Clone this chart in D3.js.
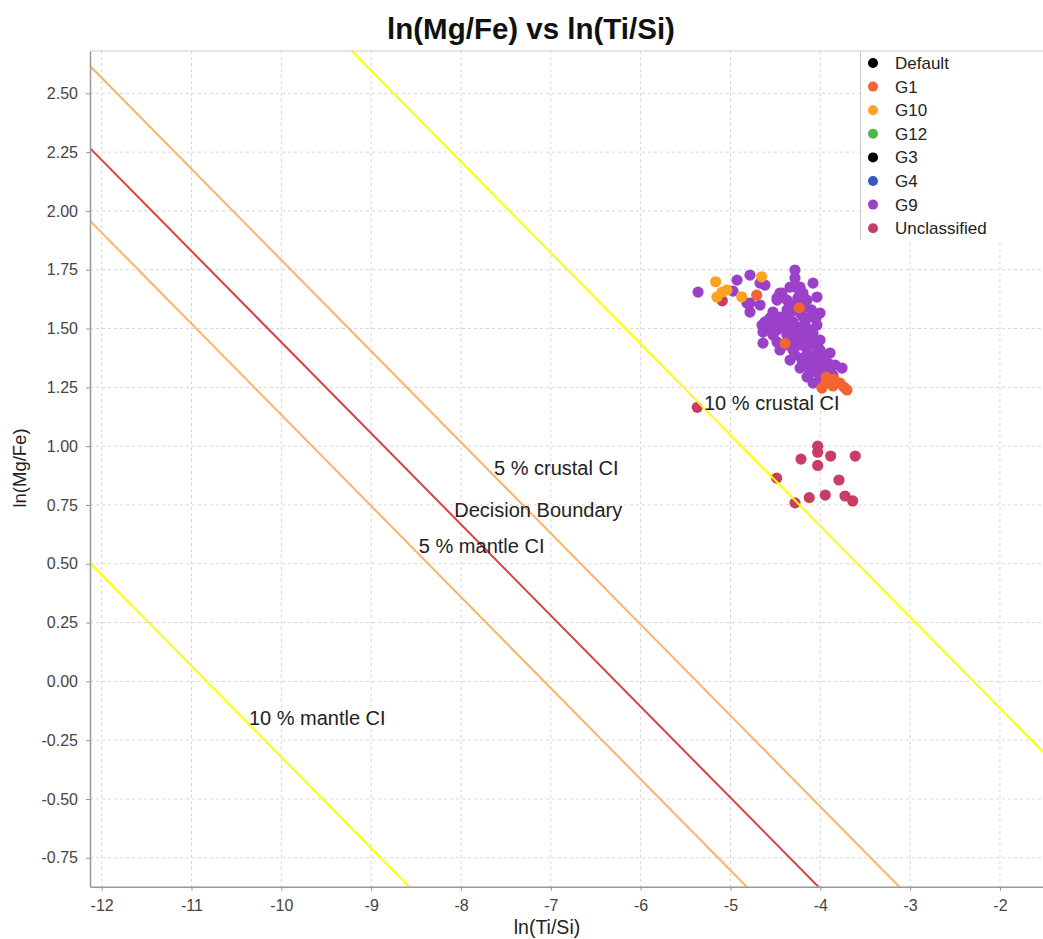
<!DOCTYPE html>
<html>
<head>
<meta charset="utf-8">
<script src="https://cdn.jsdelivr.net/npm/d3@7"></script>
<style>
body { margin: 0; background: #fff; }
text { font-family: "Liberation Sans", Arial, sans-serif; }
</style>
</head>
<body>
<script>
var w = 1043;
var h = 939;
var plotL = 90, plotT = 51, plotR = 1043, plotB = 886.7;

// axis ticks
var xTicks = [-12, -11, -10, -9, -8, -7, -6, -5, -4, -3, -2];
var yTicks = [-0.75, -0.5, -0.25, 0, 0.25, 0.5, 0.75, 1, 1.25, 1.5, 1.75, 2, 2.25, 2.5];

// legend / series
var groups = ["Default", "G1", "G10", "G12", "G3", "G4", "G9", "Unclassified"];
var colors = ["#000000", "#f26430", "#f9a31e", "#52b551", "#000000", "#3a55c9", "#9b40c9", "#c93d63"];

var defaultPts = [];
var g1Pts = [[-4.708, 1.642], [-4.234, 1.588], [-4.393, 1.437], [-3.937, 1.294], [-3.848, 1.285],
    [-3.781, 1.268], [-3.737, 1.251], [-3.703, 1.239], [-3.982, 1.247], [-3.937, 1.268], [-3.859, 1.256]];
var g10Pts = [[-5.165, 1.699], [-4.653, 1.720], [-5.095, 1.655], [-5.151, 1.634], [-4.875, 1.635], [-5.04, 1.664]];
var g12Pts = [];
var g3Pts = [];
var g4Pts = [];
var g9Pts = [[-5.361, 1.655], [-4.927, 1.706], [-4.783, 1.727], [-4.671, 1.693], [-4.616, 1.685],
    [-4.282, 1.749], [-4.282, 1.715], [-4.081, 1.693], [-4.337, 1.676], [-4.226, 1.676],
    [-4.449, 1.651], [-4.193, 1.651], [-4.037, 1.634], [-4.482, 1.621], [-4.371, 1.621],
    [-4.148, 1.621], [-4.783, 1.608], [-4.671, 1.600], [-4.527, 1.570], [-4.003, 1.566],
    [-4.783, 1.570], [-4.560, 1.545], [-4.449, 1.549], [-4.337, 1.566], [-4.226, 1.566],
    [-4.115, 1.549], [-4.304, 1.528], [-4.170, 1.515], [-4.037, 1.515], [-4.482, 1.494],
    [-4.337, 1.494], [-4.226, 1.481], [-4.081, 1.481], [-4.638, 1.438], [-4.482, 1.443],
    [-4.304, 1.451], [-4.148, 1.443], [-4.003, 1.451], [-4.449, 1.409], [-4.304, 1.409],
    [-4.148, 1.409], [-4.003, 1.409], [-3.892, 1.396], [-4.337, 1.366], [-4.193, 1.375],
    [-4.037, 1.366], [-3.914, 1.353], [-4.226, 1.332], [-4.081, 1.336], [-3.925, 1.324],
    [-3.758, 1.332], [-4.148, 1.294], [-4.003, 1.294], [-3.859, 1.302], [-4.081, 1.268],
    [-4.972, 1.659], [-4.816, 1.608], [-4.482, 1.630], [-4.560, 1.494], [-4.259, 1.672],
    [-4.426, 1.651], [-4.371, 1.579], [-4.193, 1.549], [-4.449, 1.523], [-4.115, 1.494],
    [-4.638, 1.485], [-4.527, 1.472], [-4.092, 1.315], [-4.393, 1.536], [-4.248, 1.506],
    [-4.092, 1.451], [-4.393, 1.430], [-4.226, 1.430], [-4.059, 1.387], [-3.948, 1.379],
    [-4.282, 1.387], [-4.170, 1.353], [-4.003, 1.345], [-3.836, 1.345], [-4.115, 1.315],
    [-3.981, 1.315], [-4.371, 1.472], [-4.248, 1.451], [-4.048, 1.545], [-4.649, 1.515],
    [-4.616, 1.528], [-4.30, 1.600], [-4.20, 1.590], [-4.10, 1.580], [-4.40, 1.500],
    [-4.30, 1.470], [-4.15, 1.470], [-4.05, 1.430], [-4.20, 1.360], [-4.10, 1.370],
    [-3.95, 1.340], [-4.00, 1.280], [-3.90, 1.310], [-4.50, 1.520], [-4.25, 1.630]];
var unclassPts = [[-5.370, 1.165], [-4.029, 1.000], [-4.029, 0.974], [-4.215, 0.945], [-3.885, 0.958],
    [-3.611, 0.958], [-4.029, 0.918], [-4.486, 0.864], [-3.792, 0.856], [-4.282, 0.759],
    [-4.123, 0.781], [-3.945, 0.792], [-3.725, 0.788], [-3.640, 0.767], [-5.091, 1.618]];
var seriesPts = [defaultPts, g1Pts, g10Pts, g12Pts, g3Pts, g4Pts, g9Pts, unclassPts];

// boundary lines: y = intercept + slope * x
var lineNames = ["10 % crustal CI", "5 % crustal CI", "Decision Boundary", "5 % mantle CI", "10 % mantle CI"];
var lineIntercepts = [-0.889, -2.082, -2.431, -2.740, -4.195];
var lineSlope = -0.3873;
var lineColors = ["#ffff00", "#ffb266", "#d94040", "#ffb266", "#ffff00"];
var labelX = [-4.54, -6.94, -7.14, -7.77, -9.60];
var labelY = [1.183, 0.907, 0.728, 0.575, -0.156];

var x = d3.scaleLinear().domain([-12.13, -1.521]).range([plotL, plotR]);
var y = d3.scaleLinear().domain([-0.873, 2.68]).range([plotB, plotT]);

var svg = d3.select("body")
    .append("svg")
    .attr("width", w)
    .attr("height", h);

svg.append("defs").append("clipPath")
    .attr("id", "plotclip")
    .append("rect")
    .attr("x", plotL)
    .attr("y", plotT)
    .attr("width", plotR - plotL)
    .attr("height", plotB - plotT);

// grid
svg.append("g").selectAll("line")
    .data(xTicks)
    .enter()
    .append("line")
    .attr("x1", function (d) { return x(d); })
    .attr("x2", function (d) { return x(d); })
    .attr("y1", plotT)
    .attr("y2", plotB)
    .attr("stroke", "#d6d6d6")
    .attr("stroke-dasharray", "3,3");
svg.append("g").selectAll("line")
    .data(yTicks)
    .enter()
    .append("line")
    .attr("x1", plotL)
    .attr("x2", plotR)
    .attr("y1", function (d) { return y(d); })
    .attr("y2", function (d) { return y(d); })
    .attr("stroke", "#d6d6d6")
    .attr("stroke-dasharray", "3,3");

// points, reverse series order so the first series sits on top
var plot = svg.append("g").attr("clip-path", "url(#plotclip)");
d3.range(groups.length - 1, -1, -1).forEach(function (i) {
    plot.append("g").selectAll("circle")
        .data(seriesPts[i])
        .enter()
        .append("circle")
        .attr("cx", function (d) { return x(d[0]); })
        .attr("cy", function (d) { return y(d[1]); })
        .attr("r", 5.6)
        .attr("fill", colors[i]);
});

// boundary lines
var xd = x.domain();
plot.append("g").selectAll("line")
    .data(lineIntercepts)
    .enter()
    .append("line")
    .attr("x1", x(xd[0]))
    .attr("x2", x(xd[1]))
    .attr("y1", function (d) { return y(d + lineSlope * xd[0]); })
    .attr("y2", function (d) { return y(d + lineSlope * xd[1]); })
    .attr("stroke", function (d, i) { return lineColors[i]; })
    .attr("stroke-width", 2);

svg.append("g").selectAll("text")
    .data(lineNames)
    .enter()
    .append("text")
    .text(function (d) { return d; })
    .attr("x", function (d, i) { return x(labelX[i]); })
    .attr("y", function (d, i) { return y(labelY[i]); })
    .attr("dy", "0.35em")
    .attr("text-anchor", "middle")
    .attr("font-size", "20px")
    .attr("fill", "#222");

// axes (plain hyphen for negatives, like the original)
var fmtX = function (d) { return d3.format("d")(d).replace("\u2212", "-"); };
var fmtY = function (d) { return d3.format(".2f")(d).replace("\u2212", "-"); };
var xAxis = svg.append("g")
    .attr("transform", "translate(0," + plotB + ")")
    .call(d3.axisBottom(x).tickValues(xTicks).tickSize(4).tickSizeOuter(0).tickFormat(fmtX));
var yAxis = svg.append("g")
    .attr("transform", "translate(" + plotL + ",0)")
    .call(d3.axisLeft(y).tickValues(yTicks).tickSize(4).tickSizeOuter(0).tickFormat(fmtY));
[xAxis, yAxis].forEach(function (a) {
    a.select(".domain").attr("stroke", "#999").attr("stroke-width", 1.5);
    a.selectAll(".tick line").attr("stroke", "#999");
    a.selectAll(".tick text")
        .attr("fill", "#444")
        .attr("font-size", "16px")
        .attr("font-family", "Liberation Sans, Arial, sans-serif");
});
xAxis.selectAll(".tick text").attr("dy", "1.1em");
yAxis.selectAll(".tick text").attr("x", -12);

svg.append("line")
    .attr("x1", plotL)
    .attr("x2", plotR)
    .attr("y1", plotT)
    .attr("y2", plotT)
    .attr("stroke", "#ccc");

// legend
var lg = svg.append("g");
lg.append("rect")
    .attr("x", 860)
    .attr("y", plotT + 1)
    .attr("width", 190)
    .attr("height", 189)
    .attr("fill", "#fff");
lg.append("line")
    .attr("x1", 860.5)
    .attr("x2", 860.5)
    .attr("y1", plotT)
    .attr("y2", 240)
    .attr("stroke", "#ccc");
var items = lg.selectAll("g.item")
    .data(groups)
    .enter()
    .append("g")
    .attr("class", "item")
    .attr("transform", function (d, i) { return "translate(873," + (63 + i * 23.6) + ")"; });
items.append("circle")
    .attr("r", 5)
    .attr("fill", function (d, i) { return colors[i]; });
items.append("text")
    .text(function (d) { return d; })
    .attr("x", 22)
    .attr("dy", "0.35em")
    .attr("font-size", "17px")
    .attr("fill", "#222");

// titles
svg.append("text")
    .text("ln(Mg/Fe) vs ln(Ti/Si)")
    .attr("x", 531)
    .attr("y", 39)
    .attr("text-anchor", "middle")
    .attr("font-size", "29.5px")
    .attr("font-weight", "bold")
    .attr("fill", "#111");
svg.append("text")
    .text("ln(Ti/Si)")
    .attr("x", 547)
    .attr("y", 934)
    .attr("text-anchor", "middle")
    .attr("font-size", "19.5px")
    .attr("fill", "#222");
svg.append("text")
    .text("ln(Mg/Fe)")
    .attr("transform", "translate(26,468) rotate(-90)")
    .attr("text-anchor", "middle")
    .attr("font-size", "18.5px")
    .attr("fill", "#222");
</script>
</body>
</html>
